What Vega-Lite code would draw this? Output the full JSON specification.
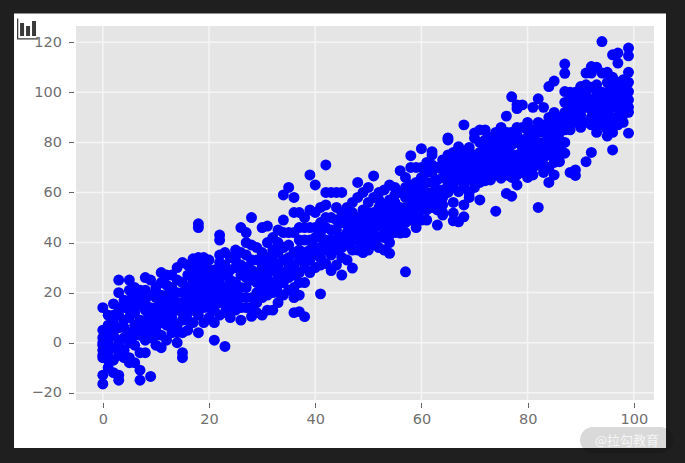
{"$schema":"https://vega.github.io/schema/vega-lite/v6.json","width":578,"height":374,"autosize":{"type":"none"},"padding":{"left":76,"top":26,"right":31,"bottom":63},"background":"#1f1f1f","config":{"view":{"stroke":null},"axis":{"grid":false,"domain":false,"ticks":true,"labels":true}},
"datasets":{"pts":[
{"x":0,"y":14},{"x":0,"y":5},{"x":0,"y":2},{"x":0,"y":-1},{"x":0,"y":-3},{"x":0,"y":-5},{"x":0,"y":-6},{"x":0,"y":-13},{"x":0,"y":-16.5},{"x":0,"y":0},
{"x":1,"y":7},{"x":1,"y":0},{"x":1,"y":-4},{"x":1,"y":-10},{"x":1,"y":3},
{"x":2,"y":15.5},{"x":2,"y":8},{"x":2,"y":3},{"x":2,"y":-2},{"x":2,"y":-7},{"x":2,"y":-12},{"x":2,"y":11},
{"x":3,"y":25},{"x":3,"y":20},{"x":3,"y":11},{"x":3,"y":6},{"x":3,"y":-1},{"x":3,"y":-13},{"x":3,"y":-15},{"x":3,"y":1},
{"x":4,"y":14},{"x":4,"y":9},{"x":4,"y":2},{"x":4,"y":-3},{"x":4,"y":17},
{"x":5,"y":25},{"x":5,"y":17},{"x":5,"y":10},{"x":5,"y":4},{"x":5,"y":-6},{"x":5,"y":-8},{"x":5,"y":13},
{"x":6,"y":19},{"x":6,"y":12},{"x":6,"y":7},{"x":6,"y":-1},{"x":6,"y":-8},{"x":6,"y":22},
{"x":7,"y":21},{"x":7,"y":15},{"x":7,"y":3},{"x":7,"y":-4},{"x":7,"y":-11},{"x":7,"y":-15},{"x":7,"y":9},
{"x":8,"y":26},{"x":8,"y":17},{"x":8,"y":9},{"x":8,"y":-4},{"x":8,"y":5},{"x":8,"y":13},
{"x":9,"y":25},{"x":9,"y":19},{"x":9,"y":8},{"x":9,"y":2},{"x":9,"y":-13.5},{"x":9,"y":14},
{"x":10,"y":22},{"x":10,"y":14},{"x":10,"y":6},{"x":10,"y":-1},{"x":10,"y":10},
{"x":11,"y":28},{"x":11,"y":19},{"x":11,"y":12},{"x":11,"y":3},{"x":11,"y":-2},{"x":11,"y":24},
{"x":12,"y":23},{"x":12,"y":15},{"x":12,"y":7},{"x":12,"y":1},{"x":12,"y":27},
{"x":13,"y":27},{"x":13,"y":18},{"x":13,"y":10},{"x":13,"y":4},{"x":13,"y":22},
{"x":14,"y":30},{"x":14,"y":20},{"x":14,"y":13},{"x":14,"y":0},{"x":14,"y":7},{"x":14,"y":25},
{"x":15,"y":32},{"x":15,"y":24},{"x":15,"y":16},{"x":15,"y":9},{"x":15,"y":-4},{"x":15,"y":-6},{"x":15,"y":4},
{"x":16,"y":31},{"x":16,"y":22},{"x":16,"y":12},{"x":16,"y":5},{"x":16,"y":27},{"x":16,"y":18},
{"x":17,"y":33.5},{"x":17,"y":25},{"x":17,"y":17},{"x":17,"y":8},{"x":17,"y":21},{"x":17,"y":29},
{"x":18,"y":47.5},{"x":18,"y":46},{"x":18,"y":34},{"x":18,"y":27},{"x":18,"y":19},{"x":18,"y":4},{"x":18,"y":11},{"x":18,"y":31},
{"x":19,"y":34},{"x":19,"y":28},{"x":19,"y":21},{"x":19,"y":14},{"x":19,"y":8},
{"x":20,"y":33},{"x":20,"y":26},{"x":20,"y":17},{"x":20,"y":10},{"x":20,"y":23},
{"x":21,"y":29},{"x":21,"y":22},{"x":21,"y":13},{"x":21,"y":8},{"x":21,"y":1},{"x":21,"y":18},
{"x":22,"y":43},{"x":22,"y":41},{"x":22,"y":32},{"x":22,"y":24},{"x":22,"y":16},{"x":23,"y":-1.5},{"x":22,"y":11},{"x":22,"y":28},
{"x":23,"y":36},{"x":23,"y":27},{"x":23,"y":19},{"x":23,"y":12},{"x":23,"y":22},
{"x":24,"y":34},{"x":24,"y":25},{"x":24,"y":17},{"x":24,"y":10},{"x":24,"y":29},
{"x":25,"y":37},{"x":25,"y":30},{"x":25,"y":20},{"x":25,"y":13},{"x":25,"y":24},
{"x":26,"y":46},{"x":26,"y":36},{"x":26,"y":27},{"x":26,"y":9},{"x":26,"y":18},{"x":26,"y":31},
{"x":27,"y":44},{"x":27,"y":40},{"x":27,"y":30},{"x":27,"y":22},{"x":27,"y":14},{"x":27,"y":35},
{"x":28,"y":50},{"x":28,"y":33},{"x":28,"y":25},{"x":28,"y":10.5},{"x":28,"y":18},{"x":28,"y":39},
{"x":29,"y":38},{"x":29,"y":28},{"x":29,"y":20},{"x":29,"y":12},{"x":29,"y":33},
{"x":30,"y":46},{"x":30,"y":36},{"x":30,"y":30},{"x":30,"y":22},{"x":30,"y":11},{"x":30,"y":26},
{"x":31,"y":46.6},{"x":31,"y":34},{"x":31,"y":27},{"x":31,"y":19},{"x":31,"y":13},{"x":31,"y":40},
{"x":32,"y":42},{"x":32,"y":33},{"x":32,"y":24},{"x":32,"y":13},{"x":32,"y":29},
{"x":33,"y":40},{"x":33,"y":31},{"x":33,"y":23},{"x":33,"y":16},{"x":33,"y":45},{"x":33,"y":36},
{"x":34,"y":59},{"x":34,"y":49},{"x":34,"y":38},{"x":34,"y":28},{"x":34,"y":19},{"x":34,"y":44},
{"x":35,"y":62},{"x":35,"y":39},{"x":35,"y":30},{"x":35,"y":21},{"x":35,"y":34},
{"x":36,"y":58},{"x":36,"y":52},{"x":36,"y":44},{"x":36,"y":36},{"x":36,"y":27},{"x":36,"y":12},{"x":36,"y":18},
{"x":37,"y":52},{"x":37,"y":41},{"x":37,"y":33},{"x":37,"y":19},{"x":37,"y":12.4},{"x":37,"y":24},{"x":37,"y":46},
{"x":38,"y":50},{"x":38,"y":41},{"x":38,"y":30},{"x":38,"y":24},{"x":38,"y":10.4},{"x":38,"y":36},{"x":38,"y":46},
{"x":39,"y":67},{"x":39,"y":53},{"x":39,"y":46},{"x":39,"y":37},{"x":39,"y":28},
{"x":40,"y":63},{"x":40,"y":52},{"x":40,"y":42},{"x":40,"y":35},{"x":40,"y":30},
{"x":41,"y":54},{"x":41,"y":48},{"x":41,"y":38},{"x":41,"y":31},{"x":41,"y":19.5},{"x":41,"y":44},
{"x":42,"y":71},{"x":42,"y":60},{"x":42,"y":55},{"x":42,"y":46},{"x":42,"y":37},{"x":42,"y":31.6},
{"x":43,"y":60},{"x":43,"y":50},{"x":43,"y":41},{"x":43,"y":28.8},{"x":43,"y":35},
{"x":44,"y":60},{"x":44,"y":54},{"x":44,"y":45},{"x":44,"y":37},{"x":44,"y":31},
{"x":45,"y":60},{"x":45,"y":52},{"x":45,"y":42},{"x":45,"y":34},{"x":45,"y":27},{"x":45,"y":48},
{"x":46,"y":54},{"x":46,"y":47},{"x":46,"y":39},{"x":46,"y":33},{"x":46,"y":44},
{"x":47,"y":56},{"x":47,"y":48},{"x":47,"y":41},{"x":47,"y":29.8},{"x":47,"y":37},
{"x":48,"y":64},{"x":48,"y":58},{"x":48,"y":50},{"x":48,"y":44},{"x":48,"y":37},
{"x":49,"y":60},{"x":49,"y":53},{"x":49,"y":46},{"x":49,"y":40},{"x":49,"y":36},
{"x":50,"y":62},{"x":50,"y":56},{"x":50,"y":49},{"x":50,"y":43},{"x":50,"y":37},{"x":50,"y":52},
{"x":51,"y":66.6},{"x":51,"y":58},{"x":51,"y":52},{"x":51,"y":45},{"x":51,"y":39},
{"x":52,"y":60},{"x":52,"y":54},{"x":52,"y":47},{"x":52,"y":38},{"x":52,"y":42},
{"x":53,"y":61},{"x":53,"y":55},{"x":53,"y":49},{"x":53,"y":42},{"x":53,"y":46},{"x":53,"y":37},
{"x":54,"y":63},{"x":54,"y":57},{"x":54,"y":50},{"x":54,"y":43},{"x":54,"y":35.7},{"x":54,"y":53},
{"x":55,"y":62},{"x":55,"y":56},{"x":55,"y":50},{"x":55,"y":44},{"x":55,"y":47},
{"x":56,"y":68.7},{"x":56,"y":60},{"x":56,"y":54},{"x":56,"y":43.8},{"x":56,"y":48},
{"x":57,"y":66},{"x":57,"y":58},{"x":57,"y":51},{"x":57,"y":44},{"x":57,"y":28.3},{"x":57,"y":62},
{"x":58,"y":74.7},{"x":58,"y":70},{"x":58,"y":63},{"x":58,"y":55},{"x":58,"y":49},
{"x":59,"y":70},{"x":59,"y":64},{"x":59,"y":57},{"x":59,"y":50},{"x":59,"y":46},
{"x":60,"y":77.5},{"x":60,"y":66},{"x":60,"y":60},{"x":60,"y":53},{"x":60,"y":49},{"x":60,"y":70},
{"x":61,"y":72},{"x":61,"y":64},{"x":61,"y":57},{"x":61,"y":49},{"x":61,"y":68},
{"x":62,"y":76.3},{"x":62,"y":75},{"x":62,"y":68},{"x":62,"y":60},{"x":63,"y":47},{"x":62,"y":54},
{"x":63,"y":70},{"x":63,"y":65},{"x":64,"y":61},{"x":64,"y":51},{"x":63,"y":57},
{"x":64,"y":73},{"x":64,"y":66},{"x":64,"y":58},{"x":64,"y":52},
{"x":65,"y":81.8},{"x":65,"y":81},{"x":65,"y":75},{"x":65,"y":68},{"x":65,"y":60},
{"x":66,"y":76},{"x":66,"y":70},{"x":66,"y":62},{"x":66,"y":51.8},{"x":66,"y":48.7},{"x":66,"y":56},
{"x":67,"y":78.3},{"x":67,"y":71},{"x":67,"y":60.3},{"x":68,"y":55},{"x":67,"y":48.3},{"x":67,"y":65},
{"x":68,"y":87},{"x":68,"y":76},{"x":68,"y":68},{"x":68,"y":50.3},{"x":68,"y":62},
{"x":69,"y":78},{"x":69,"y":72},{"x":69,"y":65},{"x":69,"y":58},{"x":69,"y":60},
{"x":70,"y":83.8},{"x":70,"y":81.7},{"x":70,"y":75},{"x":70,"y":68},{"x":70,"y":62},
{"x":71,"y":85},{"x":71,"y":76},{"x":71,"y":70},{"x":71,"y":57},{"x":71,"y":64},
{"x":72,"y":85},{"x":72,"y":78},{"x":72,"y":72},{"x":72,"y":64.7},{"x":72,"y":68},
{"x":73,"y":82},{"x":73,"y":76},{"x":73,"y":70},{"x":73,"y":65},{"x":73,"y":74},
{"x":74,"y":84},{"x":74,"y":78},{"x":74,"y":72},{"x":74,"y":52.5},{"x":74,"y":67},
{"x":75,"y":86},{"x":75,"y":80},{"x":75,"y":74},{"x":75,"y":65.7},{"x":75,"y":71},{"x":75,"y":69},
{"x":76,"y":90.5},{"x":76,"y":84},{"x":76,"y":78},{"x":76,"y":72},{"x":76,"y":59.6},{"x":76,"y":67},
{"x":77,"y":98.2},{"x":77,"y":84},{"x":77,"y":79},{"x":77,"y":72},{"x":77,"y":66},{"x":77,"y":58.5},
{"x":78,"y":95},{"x":78,"y":93.5},{"x":78,"y":80},{"x":78,"y":75},{"x":78,"y":70},{"x":78,"y":63},{"x":78,"y":86},
{"x":79,"y":95},{"x":79,"y":86},{"x":79,"y":78},{"x":79,"y":72},{"x":79,"y":68},
{"x":80,"y":88},{"x":80,"y":82},{"x":80,"y":76},{"x":80,"y":70},{"x":80,"y":66},
{"x":81,"y":94},{"x":81,"y":85},{"x":81,"y":78},{"x":81,"y":72},{"x":81,"y":67},
{"x":82,"y":97.4},{"x":82,"y":88},{"x":82,"y":80},{"x":82,"y":74},{"x":82,"y":54},{"x":82,"y":84},
{"x":83,"y":94},{"x":83,"y":87},{"x":83,"y":80},{"x":83,"y":74},{"x":83,"y":68},
{"x":84,"y":102.3},{"x":84,"y":90},{"x":84,"y":82},{"x":84,"y":75},{"x":84,"y":64},{"x":84,"y":70},
{"x":85,"y":104.5},{"x":85,"y":92},{"x":85,"y":84},{"x":85,"y":76},{"x":85,"y":67},
{"x":86,"y":90},{"x":86,"y":84},{"x":86,"y":78},{"x":86,"y":72.3},{"x":86,"y":87},
{"x":87,"y":111.3},{"x":87,"y":107.6},{"x":87,"y":100.3},{"x":87,"y":92},{"x":87,"y":85},{"x":87,"y":75.7},{"x":87,"y":80},
{"x":88,"y":100},{"x":88,"y":94},{"x":88,"y":88},{"x":88,"y":85},{"x":88,"y":68},
{"x":89,"y":100},{"x":89,"y":94},{"x":89,"y":88},{"x":89,"y":69},{"x":89,"y":66.8},
{"x":90,"y":102.3},{"x":90,"y":97},{"x":90,"y":91},{"x":90,"y":86},
{"x":91,"y":107.7},{"x":91,"y":100},{"x":91,"y":94},{"x":91,"y":88},{"x":91,"y":72.3},
{"x":92,"y":110.3},{"x":92,"y":107.7},{"x":92,"y":102},{"x":92,"y":93},{"x":92,"y":87},{"x":92,"y":76},
{"x":93,"y":110},{"x":93,"y":103},{"x":93,"y":96},{"x":93,"y":90},{"x":93,"y":84},
{"x":94,"y":120.3},{"x":94,"y":107.7},{"x":94,"y":100},{"x":94,"y":94},{"x":94,"y":87},
{"x":95,"y":108},{"x":95,"y":100},{"x":95,"y":92},{"x":95,"y":85},{"x":95,"y":82.5},
{"x":96,"y":115},{"x":96,"y":106},{"x":96,"y":98},{"x":96,"y":90},{"x":96,"y":84},{"x":96,"y":77},
{"x":97,"y":115.7},{"x":97,"y":111.7},{"x":97,"y":104},{"x":97,"y":97},{"x":97,"y":90.3},
{"x":98,"y":105},{"x":98,"y":100},{"x":98,"y":94},{"x":98,"y":88},
{"x":99,"y":117.7},{"x":99,"y":114.6},{"x":99,"y":104},{"x":99,"y":100.3},{"x":99,"y":97},{"x":99,"y":83.7},{"x":99,"y":92},
{"x":1,"y":11},{"x":1,"y":-7},{"x":2,"y":5},{"x":3,"y":14},{"x":3,"y":-5},{"x":4,"y":6},{"x":4,"y":-6},{"x":5,"y":21},{"x":5,"y":0},{"x":6,"y":15},{"x":6,"y":3},{"x":7,"y":18},{"x":7,"y":6},{"x":8,"y":21},{"x":8,"y":1},{"x":9,"y":11},{"x":9,"y":5},{"x":10,"y":18},{"x":10,"y":3},{"x":11,"y":8},{"x":11,"y":16},{"x":12,"y":11},{"x":12,"y":19},{"x":13,"y":14},{"x":13,"y":7},{"x":14,"y":16},{"x":14,"y":4},{"x":15,"y":20},{"x":15,"y":12},{"x":16,"y":15},{"x":16,"y":9},{"x":17,"y":13},{"x":18,"y":23},{"x":18,"y":15},{"x":19,"y":18},{"x":19,"y":24},{"x":19,"y":31},{"x":20,"y":20},{"x":20,"y":14},{"x":20,"y":29},{"x":21,"y":25},{"x":21,"y":15},{"x":22,"y":20},{"x":22,"y":35},{"x":23,"y":15},{"x":23,"y":31},{"x":24,"y":21},{"x":24,"y":14},{"x":25,"y":16},{"x":25,"y":33},{"x":26,"y":22},{"x":26,"y":14},{"x":27,"y":26},{"x":27,"y":18},{"x":28,"y":29},{"x":28,"y":14},{"x":29,"y":24},{"x":29,"y":16},{"x":30,"y":18},{"x":30,"y":33},{"x":31,"y":23},{"x":31,"y":30},{"x":32,"y":20},{"x":32,"y":37},{"x":33,"y":27},{"x":33,"y":20},{"x":34,"y":33},{"x":34,"y":24},{"x":35,"y":26},{"x":35,"y":44},{"x":36,"y":31},{"x":36,"y":22},{"x":37,"y":28},{"x":37,"y":37},{"x":38,"y":33},{"x":39,"y":41},{"x":39,"y":33},{"x":40,"y":38},{"x":40,"y":46},{"x":41,"y":34},{"x":41,"y":42},{"x":42,"y":41},{"x":42,"y":50},{"x":43,"y":38},{"x":43,"y":45},{"x":44,"y":41},{"x":44,"y":49},{"x":45,"y":38},{"x":46,"y":42},{"x":46,"y":50},{"x":47,"y":44},{"x":47,"y":52},{"x":48,"y":41},{"x":48,"y":47},{"x":49,"y":43},{"x":49,"y":49},{"x":50,"y":46},{"x":50,"y":40},{"x":51,"y":48},{"x":51,"y":42},{"x":52,"y":50},{"x":52,"y":57},{"x":53,"y":52},{"x":53,"y":44},{"x":54,"y":47},{"x":54,"y":40},{"x":55,"y":53},{"x":55,"y":59},{"x":56,"y":51},{"x":56,"y":46},{"x":57,"y":48},{"x":57,"y":54},{"x":58,"y":59},{"x":58,"y":52},{"x":59,"y":60},{"x":59,"y":53},{"x":60,"y":56},{"x":60,"y":63},{"x":61,"y":60},{"x":61,"y":53},{"x":62,"y":64},{"x":62,"y":57},{"x":62,"y":71},{"x":63,"y":61},{"x":63,"y":53},{"x":64,"y":69},{"x":64,"y":55},{"x":65,"y":64},{"x":65,"y":71},{"x":66,"y":66},{"x":66,"y":73},{"x":67,"y":68},{"x":67,"y":75},{"x":68,"y":72},{"x":68,"y":65},{"x":69,"y":75},{"x":69,"y":69},{"x":70,"y":72},{"x":70,"y":65},{"x":71,"y":73},{"x":71,"y":67},{"x":71,"y":80},{"x":72,"y":75},{"x":72,"y":81},{"x":73,"y":79},{"x":73,"y":67},{"x":74,"y":81},{"x":74,"y":75},{"x":74,"y":70},{"x":75,"y":77},{"x":75,"y":83},{"x":76,"y":75},{"x":76,"y":81},{"x":76,"y":69},{"x":77,"y":75},{"x":77,"y":81},{"x":77,"y":69},{"x":78,"y":83},{"x":78,"y":73},{"x":78,"y":67},{"x":79,"y":81},{"x":79,"y":75},{"x":79,"y":70},{"x":80,"y":79},{"x":80,"y":73},{"x":80,"y":85},{"x":81,"y":81},{"x":81,"y":75},{"x":81,"y":70},{"x":82,"y":77},{"x":82,"y":71},{"x":83,"y":84},{"x":83,"y":77},{"x":83,"y":71},{"x":84,"y":86},{"x":84,"y":78},{"x":85,"y":88},{"x":85,"y":80},{"x":85,"y":72},{"x":86,"y":81},{"x":86,"y":75},{"x":87,"y":88},{"x":87,"y":96},{"x":88,"y":97},{"x":88,"y":91},{"x":89,"y":97},{"x":89,"y":91},{"x":90,"y":99},{"x":90,"y":94},{"x":90,"y":89},{"x":91,"y":97},{"x":91,"y":103},{"x":92,"y":97},{"x":92,"y":90},{"x":93,"y":99},{"x":93,"y":93},{"x":93,"y":87},{"x":94,"y":97},{"x":94,"y":90},{"x":95,"y":104},{"x":95,"y":96},{"x":95,"y":88},{"x":96,"y":102},{"x":96,"y":94},{"x":96,"y":87},{"x":97,"y":100},{"x":97,"y":94},{"x":97,"y":87},{"x":98,"y":97},{"x":98,"y":91},{"x":98,"y":103},{"x":99,"y":94},{"x":99,"y":108}
]},
"layer":[
{"data":{"values":[{}]},"mark":{"type":"rect","fill":"#ffffff"},"encoding":{"x":{"datum":-16.72,"type":"quantitative","title":null,"scale":{"domain":[-5.05,103.8],"nice":false,"zero":false}},"x2":{"datum":106.06},"y":{"datum":131.5,"type":"quantitative","title":null,"scale":{"domain":[-22.9,126.5],"nice":false,"zero":false}},"y2":{"datum":-42.1}}},
{"data":{"values":[{}]},"mark":{"type":"rect","fill":"#e5e5e5"},"encoding":{"x":{"datum":-5.05,"type":"quantitative","title":null},"x2":{"datum":103.8},"y":{"datum":126.5,"type":"quantitative","title":null},"y2":{"datum":-22.9}}},
{"data":{"values":[{"tick":0},{"tick":20},{"tick":40},{"tick":60},{"tick":80},{"tick":100}]},"mark":{"type":"rule","color":"#f5f5f5","strokeWidth":1.5},"encoding":{"x":{"field":"tick","type":"quantitative","title":null}}},
{"data":{"values":[{"tick":-20},{"tick":0},{"tick":20},{"tick":40},{"tick":60},{"tick":80},{"tick":100},{"tick":120}]},"mark":{"type":"rule","color":"#f5f5f5","strokeWidth":1.5},"encoding":{"y":{"field":"tick","type":"quantitative","title":null}}},
{"data":{"name":"pts"},"mark":{"type":"circle","color":"#0000ff","opacity":1,"size":120},"encoding":{
"x":{"field":"x","type":"quantitative","title":null,"axis":{"values":[0,20,40,60,80,100],"grid":false,"domain":false,"zindex":1,"tickSize":7.5,"tickDash":[0,2.5,5,20],"tickColor":"#666666","tickWidth":1,"labelColor":"#707070","labelFont":"DejaVu Sans","labelFontSize":14.5,"labelPadding":5}},
"y":{"field":"y","type":"quantitative","title":null,"axis":{"values":[-20,0,20,40,60,80,100,120],"grid":false,"domain":false,"zindex":1,"tickSize":7.5,"tickDash":[0,2.5,5,20],"tickColor":"#666666","tickWidth":1,"labelColor":"#707070","labelFont":"DejaVu Sans","labelFontSize":14.5,"labelPadding":7}}}},
{"data":{"values":[{}]},"mark":{"type":"point","filled":true,"color":"#3a3a3a","opacity":1,"size":441,"shape":"M-1 -1H-0.88V0.88H1V1H-1ZM-0.71 -0.57H-0.33V0.67H-0.71ZM-0.14 -0.29H0.24V0.67H-0.14ZM0.43 -0.76H0.81V0.67H0.43Z"},"encoding":{"x":{"datum":-14.18,"type":"quantitative","title":null},"y":{"datum":125.3,"type":"quantitative","title":null}}},
{"data":{"values":[{}]},"mark":{"type":"rect","fill":"#000000","opacity":0.15,"cornerRadius":13},"encoding":{"x":{"datum":89.87,"type":"quantitative","title":null},"x2":{"datum":107.4},"y":{"datum":-33.7,"type":"quantitative","title":null},"y2":{"datum":-44.1}}},
{"data":{"values":[{"label":"@拉勾教育"}]},"mark":{"type":"text","color":"#ffffff","opacity":0.75,"font":"Noto Sans CJK SC","fontSize":13,"align":"center","baseline":"middle"},"encoding":{"text":{"field":"label"},"x":{"datum":98.7,"type":"quantitative","title":null},"y":{"datum":-39.2,"type":"quantitative","title":null}}}
]}
